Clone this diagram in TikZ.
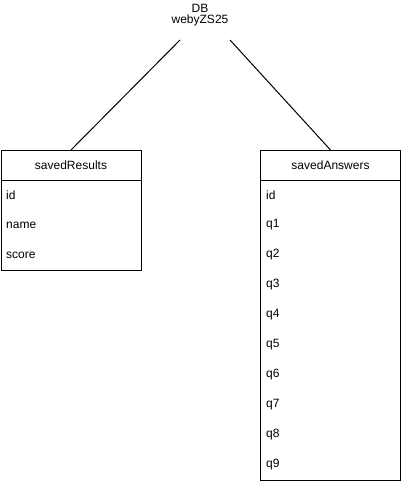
\documentclass[tikz,border=0pt]{standalone}
\usepackage{fontspec}
\setmainfont{Liberation Sans}
\usetikzlibrary{positioning}
\tikzset{
  tablehead/.style = {draw, line width=1pt, minimum width=140pt, minimum height=30pt, inner sep=0pt, anchor=north west},
  tablebody/.style = {draw, line width=1pt, minimum width=140pt, inner sep=0pt, anchor=north west},
  field/.style = {anchor=west, inner sep=0pt},
  link/.style = {line width=1pt}
}
\begin{document}
\begin{tikzpicture}[x=1pt, y=-1pt, font=\fontsize{12}{14}\selectfont]
\useasboundingbox (0,0) rectangle (401,481);

\node (db) at (200,15) {\begin{tabular}{c}DB\\[-3pt] webyZS25\end{tabular}};
\coordinate (dbl) at (180,40);
\coordinate (dbr) at (230,40);

% savedResults
\node[tablehead] (res) at (0.5,150) {savedResults};
\node[tablebody, minimum height=90pt] (resbody) at (0.5,180) {};
\node[field] (resid) at (6,195) {id};
\node[field] (resname) at (6,225) {name};
\node[field] (resscore) at (6,255) {score};

% savedAnswers
\node[tablehead] (ans) at (260,150) {savedAnswers};
\node[tablebody, minimum height=300pt] (ansbody) at (260,180) {};
\node[field] (ansid) at (266,195) {id};
\foreach \i in {1,...,9}
  \node[field] (q\i) at (266,195+30*\i) {q\i};

\draw[link] (dbl) -- (res.north);
\draw[link] (dbr) -- (ans.north);

\end{tikzpicture}
\end{document}
